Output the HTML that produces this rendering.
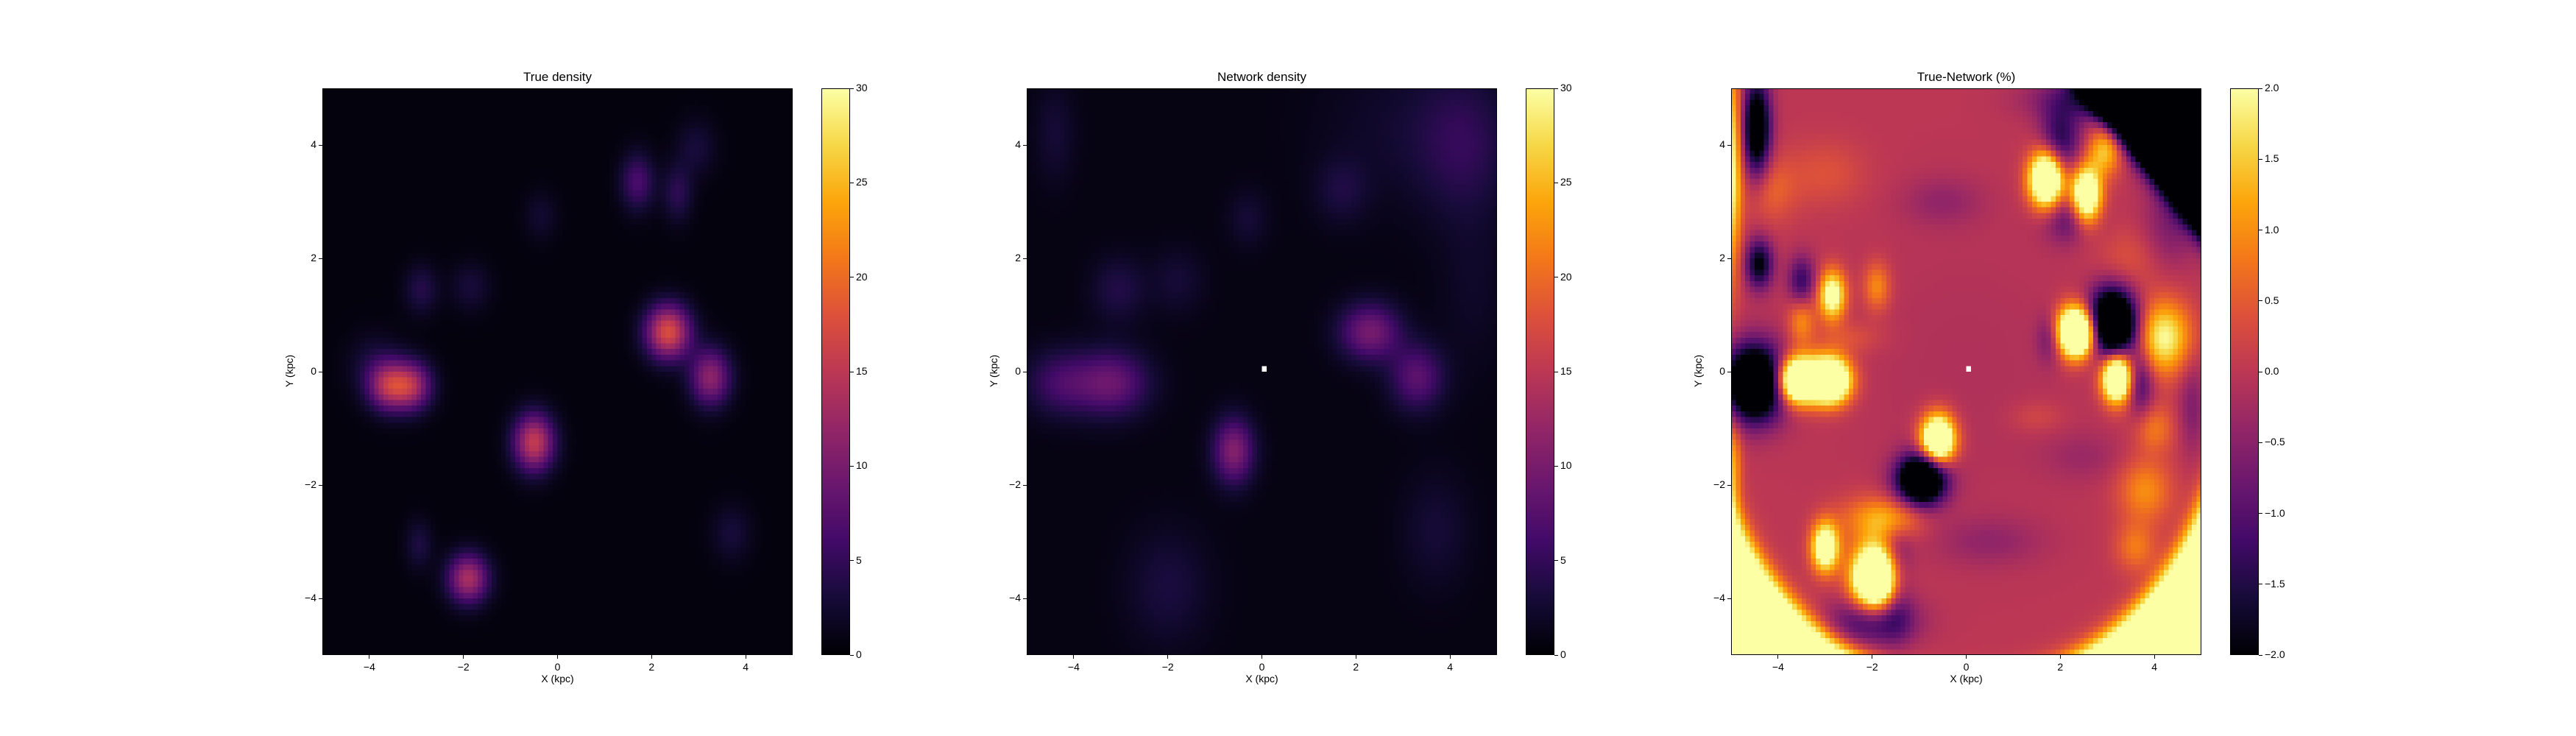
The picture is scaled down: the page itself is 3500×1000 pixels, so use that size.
<!DOCTYPE html>
<html><head><meta charset="utf-8">
<style>
body{margin:0;background:#fff;width:3500px;height:1000px;position:relative;overflow:hidden;font-family:"Liberation Sans","DejaVu Sans",sans-serif;color:#000}
canvas.hm{position:absolute;image-rendering:pixelated;width:639px;height:770px;top:120px}
.frame{position:absolute;top:120px;width:639px;height:770px;border:1px solid #000;box-sizing:border-box;pointer-events:none}
.cbar{position:absolute;top:120px;width:39px;height:770px;border:1px solid #000;box-sizing:border-box;
background:linear-gradient(to top,#000004 0%,#160b39 10%,#420a68 20%,#6a176e 30%,#932667 40%,#bc3754 50%,#dd513a 60%,#f37819 70%,#fca50a 80%,#f6d746 90%,#fcffa4 100%)}
.title{position:absolute;top:95px;width:639px;text-align:center;font-size:17px}
.tick{position:absolute;background:#000}
.tl{position:absolute;font-size:14px;white-space:nowrap}
.xl{position:absolute;top:914px;width:639px;text-align:center;font-size:14px}
.yl{position:absolute;font-size:14px;transform:rotate(-90deg);transform-origin:center;white-space:nowrap}
</style></head>
<body>
<div id="root"></div>
<script>
// ---- data: blobs [x, y, sigmaX, sigmaY, amplitude] ----
const trueBlobs = [
 [-3.6,-0.25,0.3,0.3,12],[-3.1,-0.25,0.3,0.3,12],[-3.9,0.1,0.4,0.4,2.5],[-0.5,-1.25,0.3,0.35,15],[2.35,0.7,0.33,0.33,17],
 [3.25,-0.1,0.3,0.35,11],[-1.9,-3.65,0.3,0.3,13],[1.7,3.35,0.25,0.35,6],[2.55,3.15,0.22,0.35,4],
 [2.95,3.95,0.3,0.35,2.5],[-0.35,2.75,0.25,0.3,2],[-2.9,1.45,0.25,0.3,3.5],[-1.85,1.5,0.3,0.3,2.5],
 [-2.95,-3.05,0.2,0.3,3],[3.7,-2.85,0.3,0.35,2.5]];
const trueBase = [0.5];
const netBlobs = [
 [-3.2,-0.2,0.55,0.4,8],[-4.3,-0.2,0.5,0.4,5],[-0.6,-1.4,0.3,0.4,10],[2.3,0.7,0.45,0.35,9],
 [3.3,-0.1,0.4,0.4,7],[-3.05,1.45,0.4,0.4,3],[-1.8,1.6,0.4,0.4,2],[-0.3,2.7,0.3,0.35,2],
 [1.7,3.2,0.4,0.4,2.5],[4.3,4.0,0.7,0.9,3.5],[-4.4,4.2,0.3,0.6,2],[-2.0,-3.8,0.6,0.7,2.5],
 [3.7,-2.8,0.5,0.7,2],[3.0,4.3,1.2,0.9,1.5],[4.5,1.5,0.5,1.0,1.2]];
const netBase = [0.8];
const diffBlobs = [
 [-3.6,-0.15,0.3,0.28,4.5],[-2.9,-0.15,0.3,0.28,4.5],[-0.6,-1.2,0.25,0.3,4],[2.35,0.7,0.3,0.3,5],
 [3.2,-0.1,0.22,0.3,4],[-1.9,-3.65,0.35,0.4,5],[-3.0,-3.1,0.2,0.3,3],[1.7,3.4,0.25,0.35,4],
 [2.55,3.1,0.22,0.35,3.5],[2.95,3.9,0.25,0.3,1.5],[-2.85,1.35,0.2,0.3,2.5],[4.2,0.6,0.4,0.45,2],
 [-1.9,1.5,0.2,0.3,1],[3.8,-2.1,0.4,0.4,1],[-2.1,-2.6,0.5,0.3,0.8],[-3.5,0.9,0.2,0.3,1],[3.6,-3.1,0.3,0.3,0.8],
 [-5.0,3.6,0.15,1.3,2.0],[-5.0,-1.6,0.15,0.6,1.2],[-1.5,-2.6,0.4,0.25,1],[-4.2,3.2,0.4,0.4,0.6],[4.0,-1.0,0.3,0.3,0.8],
 [-4.5,-0.2,0.45,0.45,-4],[-0.95,-1.9,0.35,0.3,-4],[3.1,0.85,0.35,0.4,-4.5],[-4.45,4.3,0.2,0.6,-2.8],
 [-4.4,1.9,0.2,0.3,-2],[-3.5,1.6,0.2,0.3,-1.3],[-1.5,-3.6,0.25,0.6,-1.5],[-2.0,-4.4,0.6,0.3,-1.5],
 [2.0,4.1,0.3,0.4,-1.5],[3.7,-0.2,0.2,0.4,-1.2],[1.8,0.6,0.2,0.3,-1],[2.2,2.7,0.4,0.3,-1],
 [-0.5,3.0,0.6,0.3,-0.4],[0.5,-3.0,0.8,0.3,-0.4],[2.5,-1.5,0.6,0.3,-0.3],[-2.5,0.6,0.5,0.2,0.4],[1.5,-0.8,0.4,0.2,0.3],
 [-3.0,3.5,0.6,0.4,0.4],[3.5,2.0,0.5,0.4,0.4],[4.8,-0.6,0.2,0.6,-0.6],[2.5,4.8,0.8,0.25,-1.0],[4.3,2.5,0.4,0.5,-0.6]];
const diffBase = [0.0];
const xTicks = [-4,-2,0,2,4];
const yTicks = [-4,-2,0,2,4];
const cbTicksDensity = [0,5,10,15,20,25,30];
const cbTicksDiff = [-2.0,-1.5,-1.0,-0.5,0.0,0.5,1.0,1.5,2.0];

const infernoStops=[[0,0,4],[22,11,57],[66,10,104],[106,23,110],[147,38,103],[188,55,84],[221,81,58],[243,120,25],[252,165,10],[246,215,70],[252,255,164]];
function inferno(t){t=Math.max(0,Math.min(1,t));const p=t*10,i=Math.min(9,Math.floor(p)),f=p-i,a=infernoStops[i],b=infernoStops[i+1];return [a[0]+(b[0]-a[0])*f,a[1]+(b[1]-a[1])*f,a[2]+(b[2]-a[2])*f];}

const PW=639,PH=770,TOP=120,N=100,XMIN=-5,XMAX=5;
const root=document.getElementById('root');
const xs=v=>(v-XMIN)/(XMAX-XMIN)*PW;
const ys=v=>(XMAX-v)/(XMAX-XMIN)*PH;
const fmt=v=>(v<0?'\u2212':'')+Math.abs(v);
const sig=z=>1/(1+Math.exp(-z));

function field(blobs,base,x,y){let v=base[0];for(const b of blobs){const dx=(x-b[0])/b[2],dy=(y-b[1])/b[3];v+=b[4]*Math.exp(-0.5*(dx*dx+dy*dy));}return v;}

function panel(left,title,blobs,base,vmin,vmax,cbTicks,cbFmt,mode,name){
 const cv=document.createElement('canvas');cv.width=N;cv.height=N;cv.className='hm';cv.style.left=left+'px';
 
 
 const ctx=cv.getContext('2d'),img=ctx.createImageData(N,N);
 for(let j=0;j<N;j++)for(let i=0;i<N;i++){
  const x=XMIN+(i+0.5)*0.1,y=XMAX-(j+0.5)*0.1;
  let v=field(blobs,base,x,y);
  if(mode==='diff'){const r=Math.hypot(x,y);
   v+=3*sig((r-5.5)/0.12)*sig((-y-1.5)/0.3);
   v+=-4*sig((x+y-7.4)/0.15);
   v+=-0.12*Math.exp(-r*r/8);}
  let c=inferno((v-vmin)/(vmax-vmin));
  if(mode!=='true'&&i===50&&j===49)c=[255,255,255];
  const k=(j*N+i)*4;img.data[k]=c[0];img.data[k+1]=c[1];img.data[k+2]=c[2];img.data[k+3]=255;}
 ctx.putImageData(img,0,0);root.appendChild(cv);
 const fr=document.createElement('div');fr.className='frame';fr.style.left=left+'px';
 
 root.appendChild(fr);
 const t=document.createElement('div');t.className='title';t.style.left=left+'px';t.textContent=title;
 
 root.appendChild(t);
 for(const v of xTicks){const px=left+xs(v);
  const tk=document.createElement('div');tk.className='tick';tk.style.cssText=`left:${px-0.5}px;top:${TOP+PH}px;width:1px;height:5px`;
  
  root.appendChild(tk);
  const l=document.createElement('div');l.className='tl';l.style.cssText=`left:${px-20}px;width:40px;text-align:center;top:${TOP+PH+8}px`;l.textContent=fmt(v);
  
  root.appendChild(l);}
 for(const v of yTicks){const py=TOP+ys(v);
  const tk=document.createElement('div');tk.className='tick';tk.style.cssText=`left:${left-5}px;top:${py-0.5}px;width:5px;height:1px`;
  
  root.appendChild(tk);
  const l=document.createElement('div');l.className='tl';l.style.cssText=`left:${left-48}px;width:40px;text-align:right;top:${py-9}px`;l.textContent=fmt(v);
  
  root.appendChild(l);}
 const xl=document.createElement('div');xl.className='xl';xl.style.left=left+'px';xl.textContent='X (kpc)';
 
 root.appendChild(xl);
 const yl=document.createElement('div');yl.className='yl';yl.style.cssText=`left:${left-85}px;top:${TOP+PH/2-9}px;width:80px;text-align:center`;yl.textContent='Y (kpc)';
 
 root.appendChild(yl);
 const cl=left+678;
 const cb=document.createElement('div');cb.className='cbar';cb.style.left=cl+'px';
 
 root.appendChild(cb);
 for(const v of cbTicks){const py=TOP+(vmax-v)/(vmax-vmin)*PH;
  const tk=document.createElement('div');tk.className='tick';tk.style.cssText=`left:${cl+39}px;top:${py-0.5}px;width:5px;height:1px`;
  
  root.appendChild(tk);
  const l=document.createElement('div');l.className='tl';l.style.cssText=`left:${cl+47}px;top:${py-9}px`;l.textContent=cbFmt(v);
  
  root.appendChild(l);}
}
panel(438,'True density',trueBlobs,trueBase,0,30,cbTicksDensity,v=>String(v),'true','true-density');
panel(1395,'Network density',netBlobs,netBase,0,30,cbTicksDensity,v=>String(v),'net','network-density');
panel(2352,'True-Network (%)',diffBlobs,diffBase,-2,2,cbTicksDiff,v=>(v<0?'\u2212':'')+Math.abs(v).toFixed(1),'diff','true-network-diff');
</script>
</body></html>
